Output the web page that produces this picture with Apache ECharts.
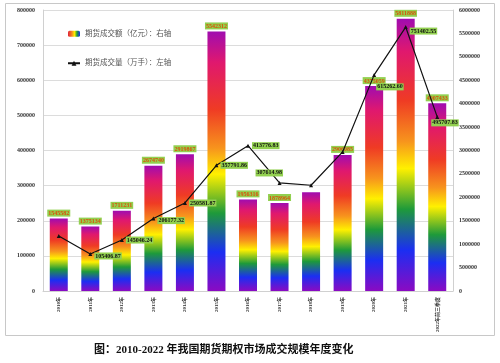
<!DOCTYPE html>
<html><head><meta charset="utf-8">
<script src="https://cdn.jsdelivr.net/npm/echarts@6/dist/echarts.min.js"></script>
<style>html,body{margin:0;padding:0;background:#fff}#c{width:500px;height:363px}</style>
</head><body><div id="c"></div>
<script>
const categories = ['2010年','2011年','2012年','2013年','2014年','2015年','2016年','2017年','2018年','2019年','2020年','2021年','2022年前三季度'];
const turnoverValues = [1545582,1375134,1711231,2674740,2919867,5542312,1956316,1878964,2108237,2906085,4375059,5811888,4007433];
const turnoverLabelShown = [true,true,true,true,true,true,true,true,false,true,true,true,true];
const volumeValues = [156572,105406.87,145046.24,206177.32,250581.87,357791.86,413776.83,307614.98,301000,396000,615262.60,751402.55,495707.83];
const volumeLabelShown = [false,true,true,true,true,true,true,true,false,false,true,true,true];
const leftTicks = {min:0,max:800000,interval:100000};
const rightTicks = {min:0,max:6000000,interval:500000};
const seriesNames = ['期货成交额（亿元）：右轴','期货成交量（万手）：左轴'];
const titleText = '图：2010-2022 年我国期货期权市场成交规模年度变化';

// label layout tweaks (style, not data)
const volLabelOffset = [[0,0],[0,2],[0,0],[0,2],[0,0],[0,0],[0,0],[-28,-10],[0,0],[0,0],[-2,12],[0,4],[-10,6]];

const chart = echarts.init(document.getElementById('c'));
const rainbow = new echarts.graphic.LinearGradient(0,0,0,1,[
  {offset:0,color:'#A00CB0'},
  {offset:0.12,color:'#E0186E'},
  {offset:0.3,color:'#EF3B24'},
  {offset:0.45,color:'#F7941D'},
  {offset:0.55,color:'#FFF000'},
  {offset:0.7,color:'#1E9A3A'},
  {offset:0.85,color:'#1B2EF2'},
  {offset:1,color:'#8B0AC2'}
]);
const legendRainbow = new echarts.graphic.LinearGradient(0,0,1,0,[
  {offset:0,color:'#E01F3A'},{offset:0.35,color:'#F7941D'},{offset:0.55,color:'#FFF000'},{offset:0.75,color:'#1E9A3A'},{offset:1,color:'#1B2EF2'}
]);
const serif = '"Liberation Serif","DejaVu Serif","Noto Sans CJK SC",serif';
const plain = v => String(v);

chart.setOption({
  animation:false,
  grid:{left:43,right:47,top:10,bottom:72,containLabel:false},
  legend:{
    orient:'vertical', left:62, top:25, itemGap:22, itemWidth:12, itemHeight:6,
    textStyle:{fontSize:7.5,color:'#555',fontFamily:serif},
    data:[{name:seriesNames[0],itemStyle:{color:legendRainbow}},{name:seriesNames[1]}]
  },
  xAxis:{
    type:'category', data:categories,
    axisLine:{lineStyle:{color:'#d0d0d0'}}, axisTick:{show:false},
    axisLabel:{rotate:90,fontSize:5,color:'#333',fontWeight:'bold',fontFamily:serif,interval:0,margin:6}
  },
  yAxis:[
    {type:'value',min:leftTicks.min,max:leftTicks.max,interval:leftTicks.interval,
     axisLine:{show:true,lineStyle:{color:'#d0d0d0'}},axisTick:{show:false},
     axisLabel:{fontSize:6,color:'#333',fontWeight:'bold',fontFamily:serif,margin:8,formatter:plain},
     splitLine:{lineStyle:{color:'#dcdcdc'}}},
    {type:'value',min:rightTicks.min,max:rightTicks.max,interval:rightTicks.interval,position:'right',
     axisLine:{show:true,lineStyle:{color:'#d0d0d0'}},axisTick:{show:false},
     axisLabel:{fontSize:6,color:'#333',fontWeight:'bold',fontFamily:serif,margin:6,formatter:plain},
     splitLine:{show:false}}
  ],
  series:[
    {name:seriesNames[0],type:'bar',yAxisIndex:1,barWidth:18,
     itemStyle:{color:rainbow},
     data:turnoverValues.map((v,i)=>({value:v,label:{show:turnoverLabelShown[i]}})),
     label:{position:'top',distance:2,fontSize:6,fontWeight:'bold',color:'#D9530A',fontFamily:serif,
            backgroundColor:'#92D050',padding:[1,1,0,1],formatter:p=>String(p.value)}},
    {name:seriesNames[1],type:'line',yAxisIndex:0,symbol:'triangle',symbolSize:4,
     lineStyle:{color:'#111',width:1.2},itemStyle:{color:'#111'},
     data:volumeValues.map((v,i)=>({value:v,label:{show:volumeLabelShown[i],offset:volLabelOffset[i]}})),
     label:{position:'right',distance:2,fontSize:6,fontWeight:'bold',color:'#111',fontFamily:serif,
            backgroundColor:'#92D050',padding:[1,1,0,1],formatter:p=>Number(p.value).toFixed(2)},
     z:5}
  ],
  graphic:[
    {type:'rect',shape:{x:5.5,y:3.5,width:489,height:332},style:{fill:'none',stroke:'#c8c8c8',lineWidth:1},silent:true,z:-1},
    {type:'text',left:94,top:345,style:{text:titleText,fontSize:11,fontWeight:'bold',fill:'#111',fontFamily:serif}}
  ]
});
</script></body></html>
